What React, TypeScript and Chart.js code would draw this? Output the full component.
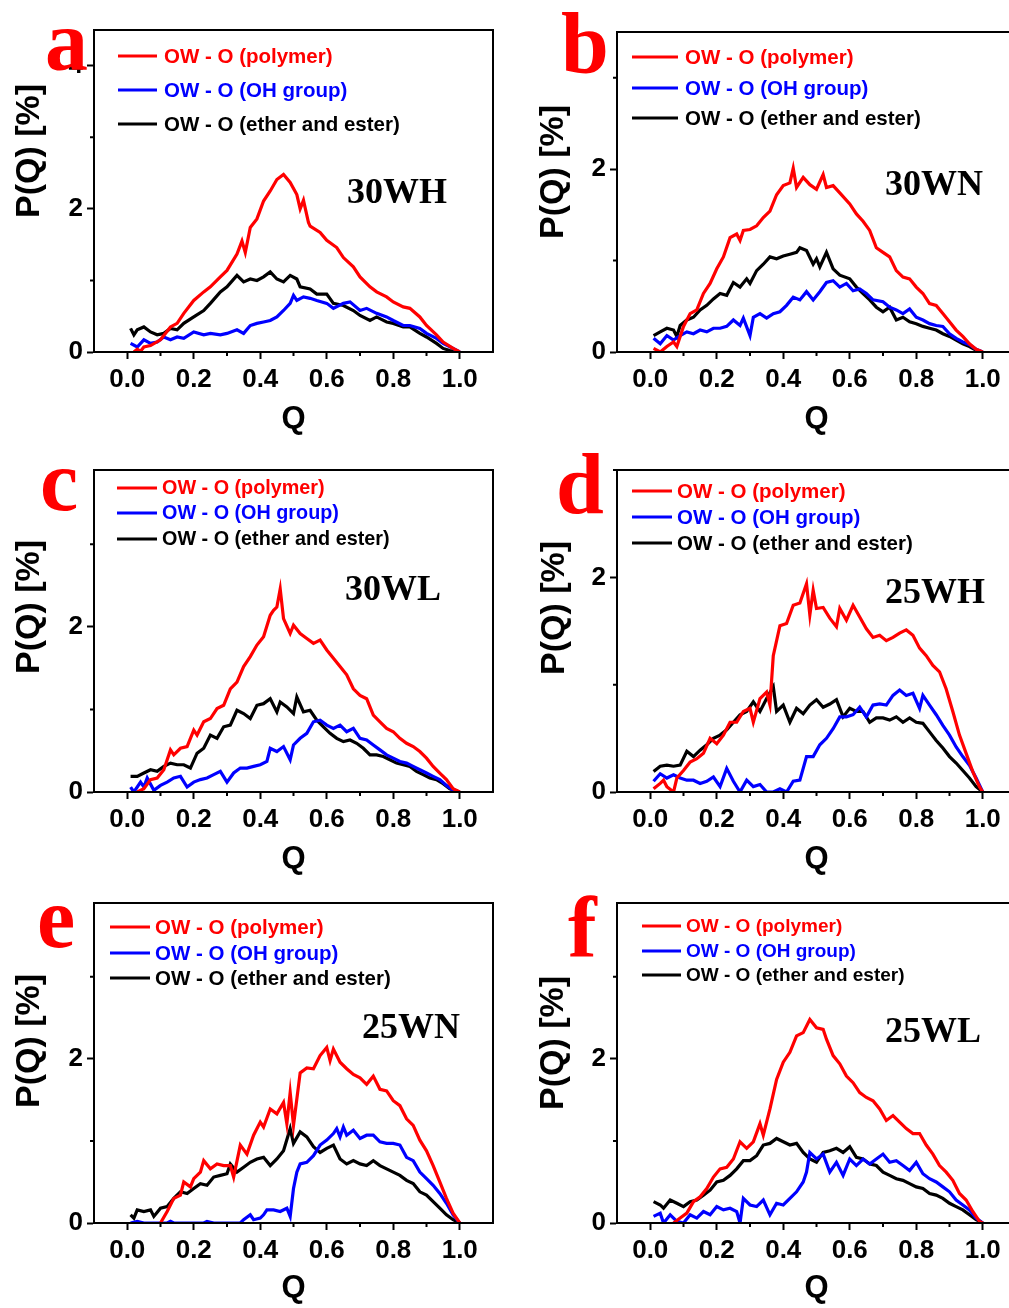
import React, { useEffect, useRef } from "react";
import { Chart, registerables } from "chart.js";
Chart.register(...registerables);

type Pt = [number, number];

// ---------- labels / ticks ----------
const SERIES_LABELS = ["OW - O (polymer)", "OW - O (OH group)", "OW - O (ether and ester)"];
const SERIES_COLORS = ["#ff0000", "#0000ff", "#000000"];
const PANEL_LETTERS = ["a", "b", "c", "d", "e", "f"];
const SAMPLE_NAMES = ["30WH", "30WN", "30WL", "25WH", "25WN", "25WL"];
const X_MIN = -0.1;
const X_MAX = 1.1;
const X_MAJOR = [0, 0.2, 0.4, 0.6, 0.8, 1.0];
const X_MINOR = [0.1, 0.3, 0.5, 0.7, 0.9];
const Y_MAX = [4.5, 3.5, 3.9, 3.0, 3.9, 3.9];
const Y_MAJOR = [[0, 2, 4], [0, 2], [0, 2], [0, 2], [0, 2], [0, 2]];
const Y_MINOR = [[1, 3], [1, 3], [1, 3], [1, 3], [1, 3], [1, 3]];
const X_TITLE = "Q";
const Y_TITLE = "P(Q) [%]";

// ---------- data: (Q, P(Q) %) ----------
const A_POLYMER: Pt[] = [[0.02,0],[0.03,0.04],[0.04,0.01],[0.05,0.07],[0.07,0.09],[0.1,0.17],[0.13,0.35],[0.15,0.4],[0.17,0.54],[0.2,0.72],[0.23,0.84],[0.25,0.91],[0.28,1.05],[0.3,1.14],[0.33,1.37],[0.345,1.55],[0.355,1.39],[0.37,1.74],[0.39,1.86],[0.41,2.11],[0.43,2.25],[0.45,2.41],[0.47,2.48],[0.49,2.37],[0.51,2.2],[0.52,2.0],[0.53,2.12],[0.545,1.81],[0.55,1.76],[0.58,1.67],[0.6,1.56],[0.63,1.46],[0.65,1.32],[0.68,1.19],[0.7,1.05],[0.73,0.91],[0.75,0.84],[0.78,0.77],[0.8,0.7],[0.83,0.63],[0.85,0.61],[0.88,0.49],[0.9,0.37],[0.93,0.24],[0.95,0.14],[0.98,0.05],[1.0,0]];
const A_OH: Pt[] = [[0.01,0.12],[0.03,0.07],[0.05,0.17],[0.07,0.12],[0.09,0.14],[0.11,0.21],[0.13,0.17],[0.15,0.21],[0.17,0.19],[0.2,0.28],[0.23,0.24],[0.25,0.26],[0.28,0.24],[0.3,0.26],[0.33,0.31],[0.35,0.26],[0.37,0.37],[0.39,0.4],[0.41,0.42],[0.43,0.44],[0.45,0.49],[0.47,0.58],[0.49,0.68],[0.5,0.79],[0.51,0.72],[0.53,0.77],[0.55,0.75],[0.57,0.72],[0.6,0.68],[0.62,0.61],[0.65,0.68],[0.67,0.7],[0.7,0.58],[0.72,0.61],[0.75,0.54],[0.78,0.49],[0.8,0.44],[0.83,0.37],[0.85,0.37],[0.88,0.33],[0.9,0.26],[0.93,0.19],[0.95,0.12],[0.98,0.05],[1.0,0]];
const A_ETHER: Pt[] = [[0.01,0.33],[0.02,0.24],[0.03,0.31],[0.05,0.35],[0.07,0.28],[0.09,0.24],[0.11,0.26],[0.13,0.33],[0.15,0.31],[0.17,0.4],[0.2,0.49],[0.23,0.58],[0.25,0.68],[0.28,0.84],[0.3,0.91],[0.33,1.07],[0.35,0.98],[0.37,1.02],[0.39,1.0],[0.41,1.05],[0.43,1.12],[0.45,1.02],[0.47,0.98],[0.49,1.07],[0.51,1.02],[0.52,0.91],[0.55,0.88],[0.57,0.81],[0.6,0.81],[0.62,0.68],[0.65,0.65],[0.68,0.58],[0.7,0.51],[0.73,0.44],[0.75,0.49],[0.78,0.42],[0.8,0.4],[0.83,0.35],[0.85,0.35],[0.88,0.26],[0.9,0.21],[0.93,0.12],[0.95,0.05],[0.97,0.02],[1.0,0]];

const B_POLYMER: Pt[] = [[0.01,0.04],[0.03,0],[0.05,0.06],[0.07,0.11],[0.08,0.06],[0.1,0.28],[0.12,0.42],[0.14,0.46],[0.16,0.64],[0.18,0.75],[0.2,0.91],[0.22,1.04],[0.24,1.25],[0.26,1.29],[0.27,1.22],[0.28,1.33],[0.3,1.34],[0.32,1.38],[0.34,1.47],[0.36,1.54],[0.38,1.72],[0.4,1.82],[0.42,1.85],[0.43,2.01],[0.44,1.8],[0.46,1.91],[0.48,1.83],[0.5,1.78],[0.52,1.94],[0.53,1.8],[0.55,1.82],[0.57,1.74],[0.6,1.62],[0.62,1.51],[0.64,1.43],[0.66,1.33],[0.68,1.14],[0.7,1.09],[0.72,1.04],[0.74,0.89],[0.76,0.82],[0.78,0.8],[0.8,0.71],[0.82,0.64],[0.84,0.53],[0.86,0.51],[0.88,0.42],[0.9,0.33],[0.92,0.24],[0.94,0.17],[0.96,0.09],[0.98,0.03],[1.0,0]];
const B_OH: Pt[] = [[0.01,0.15],[0.03,0.09],[0.05,0.18],[0.07,0.13],[0.09,0.18],[0.11,0.22],[0.13,0.2],[0.15,0.24],[0.17,0.22],[0.19,0.26],[0.21,0.26],[0.23,0.28],[0.25,0.35],[0.27,0.29],[0.28,0.37],[0.3,0.18],[0.31,0.38],[0.33,0.42],[0.35,0.37],[0.37,0.42],[0.39,0.44],[0.41,0.51],[0.43,0.6],[0.45,0.57],[0.47,0.66],[0.49,0.57],[0.51,0.66],[0.53,0.76],[0.55,0.78],[0.57,0.71],[0.59,0.75],[0.61,0.67],[0.63,0.69],[0.65,0.64],[0.67,0.57],[0.7,0.55],[0.72,0.49],[0.74,0.46],[0.76,0.42],[0.78,0.47],[0.8,0.38],[0.82,0.35],[0.84,0.31],[0.86,0.29],[0.88,0.28],[0.9,0.2],[0.92,0.15],[0.94,0.11],[0.96,0.08],[0.98,0.03],[1.0,0]];
const B_ETHER: Pt[] = [[0.01,0.18],[0.03,0.22],[0.05,0.26],[0.07,0.24],[0.08,0.17],[0.09,0.29],[0.11,0.35],[0.13,0.38],[0.15,0.46],[0.17,0.51],[0.19,0.58],[0.21,0.64],[0.23,0.62],[0.25,0.76],[0.27,0.71],[0.29,0.8],[0.3,0.75],[0.32,0.89],[0.34,0.96],[0.36,1.04],[0.38,1.02],[0.4,1.05],[0.42,1.07],[0.44,1.09],[0.45,1.14],[0.47,1.11],[0.49,0.96],[0.5,1.02],[0.51,0.93],[0.53,1.09],[0.55,0.91],[0.57,0.84],[0.6,0.8],[0.62,0.71],[0.64,0.64],[0.66,0.57],[0.68,0.49],[0.7,0.44],[0.72,0.49],[0.74,0.35],[0.76,0.38],[0.78,0.33],[0.8,0.31],[0.82,0.28],[0.84,0.26],[0.86,0.24],[0.88,0.2],[0.9,0.17],[0.92,0.13],[0.94,0.09],[0.96,0.06],[0.98,0.02],[1.0,0]];

const C_POLYMER: Pt[] = [[0.03,0],[0.05,0.04],[0.07,0.15],[0.09,0.17],[0.11,0.27],[0.13,0.51],[0.14,0.45],[0.16,0.53],[0.18,0.55],[0.2,0.75],[0.21,0.69],[0.23,0.85],[0.25,0.89],[0.27,1.01],[0.29,1.05],[0.31,1.25],[0.33,1.33],[0.35,1.52],[0.37,1.64],[0.39,1.78],[0.41,1.88],[0.43,2.14],[0.44,2.2],[0.45,2.24],[0.46,2.46],[0.47,2.1],[0.49,1.92],[0.5,2.02],[0.52,1.92],[0.54,1.86],[0.56,1.8],[0.58,1.84],[0.6,1.72],[0.62,1.62],[0.64,1.52],[0.66,1.42],[0.68,1.25],[0.7,1.17],[0.72,1.13],[0.74,0.93],[0.76,0.85],[0.78,0.77],[0.8,0.73],[0.82,0.65],[0.84,0.59],[0.86,0.55],[0.88,0.49],[0.9,0.41],[0.92,0.31],[0.94,0.23],[0.96,0.15],[0.98,0.04],[1.0,0]];
const C_OH: Pt[] = [[0.01,0.06],[0.02,0],[0.04,0.12],[0.05,0.06],[0.06,0.17],[0.08,0.02],[0.1,0.08],[0.12,0.12],[0.14,0.17],[0.16,0.19],[0.18,0.06],[0.2,0.12],[0.22,0.15],[0.24,0.17],[0.26,0.21],[0.28,0.25],[0.3,0.12],[0.32,0.23],[0.34,0.29],[0.36,0.29],[0.38,0.31],[0.4,0.33],[0.42,0.37],[0.43,0.53],[0.45,0.49],[0.47,0.55],[0.49,0.39],[0.5,0.57],[0.52,0.65],[0.54,0.71],[0.56,0.85],[0.58,0.87],[0.6,0.81],[0.62,0.77],[0.64,0.81],[0.66,0.73],[0.68,0.77],[0.7,0.65],[0.72,0.63],[0.74,0.57],[0.76,0.51],[0.78,0.45],[0.8,0.41],[0.82,0.37],[0.84,0.35],[0.86,0.31],[0.88,0.27],[0.9,0.23],[0.92,0.19],[0.94,0.15],[0.96,0.08],[0.98,0.02],[1.0,0]];
const C_ETHER: Pt[] = [[0.01,0.19],[0.03,0.19],[0.05,0.23],[0.07,0.27],[0.09,0.25],[0.11,0.31],[0.13,0.35],[0.15,0.33],[0.17,0.33],[0.19,0.29],[0.21,0.47],[0.23,0.53],[0.25,0.69],[0.27,0.65],[0.29,0.79],[0.31,0.81],[0.33,0.99],[0.35,0.95],[0.37,0.89],[0.39,1.05],[0.41,1.07],[0.43,1.13],[0.45,0.97],[0.46,1.09],[0.48,1.03],[0.5,0.95],[0.51,1.15],[0.53,0.97],[0.55,0.99],[0.57,0.87],[0.59,0.79],[0.61,0.71],[0.63,0.65],[0.65,0.61],[0.67,0.63],[0.69,0.59],[0.71,0.53],[0.73,0.45],[0.75,0.45],[0.77,0.43],[0.79,0.39],[0.81,0.35],[0.83,0.33],[0.85,0.31],[0.87,0.25],[0.89,0.21],[0.91,0.17],[0.93,0.15],[0.95,0.1],[0.97,0.04],[1.0,0]];

const D_POLYMER: Pt[] = [[0.01,0.03],[0.03,0.08],[0.04,0.11],[0.05,0.05],[0.07,0],[0.08,0.13],[0.1,0.2],[0.12,0.28],[0.14,0.31],[0.16,0.36],[0.18,0.5],[0.2,0.45],[0.22,0.53],[0.24,0.65],[0.26,0.65],[0.28,0.75],[0.3,0.78],[0.31,0.65],[0.33,0.87],[0.35,0.93],[0.36,0.81],[0.37,1.27],[0.39,1.55],[0.41,1.57],[0.43,1.74],[0.45,1.76],[0.47,1.94],[0.48,1.65],[0.49,1.88],[0.5,1.71],[0.52,1.72],[0.54,1.62],[0.56,1.54],[0.57,1.71],[0.59,1.6],[0.61,1.74],[0.63,1.63],[0.65,1.52],[0.67,1.44],[0.69,1.46],[0.71,1.41],[0.73,1.44],[0.75,1.48],[0.77,1.51],[0.79,1.46],[0.81,1.34],[0.83,1.27],[0.85,1.18],[0.87,1.12],[0.89,0.96],[0.91,0.75],[0.93,0.53],[0.95,0.36],[0.97,0.19],[0.99,0.05],[1.0,0]];
const D_OH: Pt[] = [[0.01,0.1],[0.03,0.17],[0.05,0.13],[0.07,0.16],[0.09,0.13],[0.11,0.11],[0.13,0.11],[0.15,0.08],[0.17,0.1],[0.19,0.14],[0.21,0.05],[0.23,0.22],[0.25,0.1],[0.27,0],[0.29,0.11],[0.31,0.05],[0.33,0.07],[0.35,0],[0.37,0],[0.39,0.03],[0.41,0],[0.43,0.1],[0.45,0.11],[0.47,0.33],[0.49,0.33],[0.51,0.44],[0.53,0.5],[0.55,0.59],[0.57,0.7],[0.59,0.7],[0.61,0.72],[0.63,0.79],[0.65,0.7],[0.67,0.81],[0.69,0.82],[0.71,0.81],[0.73,0.9],[0.75,0.95],[0.77,0.9],[0.79,0.92],[0.81,0.78],[0.82,0.9],[0.84,0.81],[0.86,0.72],[0.88,0.62],[0.9,0.53],[0.92,0.42],[0.94,0.33],[0.96,0.25],[0.98,0.13],[1.0,0]];
const D_ETHER: Pt[] = [[0.01,0.19],[0.03,0.24],[0.05,0.25],[0.07,0.24],[0.09,0.25],[0.11,0.38],[0.13,0.33],[0.15,0.39],[0.17,0.44],[0.19,0.5],[0.21,0.53],[0.23,0.58],[0.25,0.65],[0.27,0.72],[0.29,0.75],[0.31,0.84],[0.33,0.75],[0.35,0.87],[0.37,0.98],[0.38,0.75],[0.4,0.81],[0.42,0.65],[0.44,0.78],[0.46,0.73],[0.48,0.81],[0.5,0.86],[0.52,0.79],[0.54,0.82],[0.56,0.86],[0.58,0.7],[0.6,0.78],[0.62,0.75],[0.64,0.75],[0.66,0.65],[0.68,0.69],[0.7,0.69],[0.72,0.67],[0.74,0.7],[0.76,0.65],[0.78,0.69],[0.8,0.65],[0.82,0.64],[0.84,0.56],[0.86,0.48],[0.88,0.41],[0.9,0.33],[0.92,0.27],[0.94,0.2],[0.96,0.13],[0.98,0.05],[1.0,0]];

const E_POLYMER: Pt[] = [[0.1,0],[0.12,0.14],[0.14,0.3],[0.16,0.34],[0.17,0.5],[0.19,0.44],[0.2,0.54],[0.22,0.62],[0.23,0.76],[0.25,0.66],[0.27,0.72],[0.29,0.7],[0.31,0.7],[0.32,0.56],[0.34,0.95],[0.36,0.84],[0.38,1.07],[0.4,1.23],[0.41,1.17],[0.43,1.39],[0.45,1.33],[0.47,1.47],[0.48,1.21],[0.49,1.59],[0.5,1.19],[0.52,1.83],[0.54,1.89],[0.56,1.88],[0.58,2.04],[0.6,2.14],[0.61,1.98],[0.62,2.12],[0.64,1.96],[0.66,1.88],[0.68,1.81],[0.7,1.77],[0.72,1.69],[0.74,1.79],[0.76,1.63],[0.78,1.61],[0.8,1.49],[0.82,1.43],[0.84,1.27],[0.86,1.19],[0.88,1.01],[0.9,0.88],[0.92,0.7],[0.94,0.5],[0.96,0.3],[0.98,0.12],[1.0,0]];
const E_OH: Pt[] = [[0.01,0],[0.03,0.02],[0.05,0],[0.12,0],[0.13,0.02],[0.14,0],[0.23,0],[0.24,0.02],[0.26,0],[0.34,0],[0.35,0.04],[0.37,0.1],[0.38,0.04],[0.4,0.06],[0.41,0.1],[0.42,0.16],[0.44,0.16],[0.46,0.14],[0.48,0.18],[0.49,0.08],[0.5,0.42],[0.51,0.62],[0.52,0.72],[0.54,0.74],[0.56,0.82],[0.58,0.95],[0.6,1.01],[0.62,1.09],[0.63,1.15],[0.64,1.05],[0.65,1.17],[0.66,1.07],[0.68,1.13],[0.7,1.03],[0.72,1.07],[0.74,1.07],[0.76,0.99],[0.78,0.97],[0.8,0.97],[0.82,0.95],[0.84,0.8],[0.86,0.76],[0.88,0.62],[0.9,0.54],[0.92,0.46],[0.94,0.36],[0.96,0.24],[0.98,0.1],[1.0,0]];
const E_ETHER: Pt[] = [[0.01,0.1],[0.02,0.06],[0.03,0.16],[0.05,0.14],[0.07,0.16],[0.08,0.08],[0.1,0.18],[0.12,0.2],[0.14,0.3],[0.16,0.38],[0.18,0.36],[0.2,0.42],[0.22,0.48],[0.24,0.46],[0.26,0.56],[0.28,0.58],[0.3,0.6],[0.31,0.72],[0.33,0.62],[0.35,0.68],[0.37,0.74],[0.39,0.78],[0.41,0.8],[0.43,0.7],[0.45,0.78],[0.47,0.88],[0.49,1.15],[0.5,0.97],[0.52,1.11],[0.54,1.05],[0.56,0.93],[0.58,0.86],[0.6,0.91],[0.62,0.95],[0.64,0.78],[0.66,0.72],[0.68,0.76],[0.7,0.72],[0.72,0.7],[0.74,0.76],[0.76,0.7],[0.78,0.66],[0.8,0.62],[0.82,0.58],[0.84,0.52],[0.86,0.48],[0.88,0.38],[0.9,0.34],[0.92,0.26],[0.94,0.18],[0.96,0.1],[0.98,0.04],[1.0,0]];

const F_POLYMER: Pt[] = [[0.07,0],[0.09,0.06],[0.11,0.12],[0.13,0.26],[0.15,0.32],[0.17,0.42],[0.19,0.56],[0.21,0.66],[0.23,0.68],[0.25,0.78],[0.27,0.99],[0.29,0.91],[0.31,0.99],[0.33,1.21],[0.34,1.07],[0.36,1.39],[0.38,1.75],[0.4,1.96],[0.42,2.08],[0.44,2.28],[0.46,2.32],[0.48,2.48],[0.5,2.38],[0.52,2.36],[0.53,2.24],[0.55,2.04],[0.57,1.94],[0.59,1.79],[0.61,1.71],[0.63,1.59],[0.65,1.53],[0.67,1.49],[0.69,1.39],[0.71,1.25],[0.73,1.31],[0.75,1.23],[0.77,1.15],[0.79,1.09],[0.81,1.09],[0.83,0.95],[0.85,0.84],[0.87,0.7],[0.89,0.62],[0.91,0.52],[0.93,0.36],[0.95,0.28],[0.97,0.14],[0.99,0.02],[1.0,0]];
const F_OH: Pt[] = [[0.01,0.08],[0.03,0.12],[0.04,0],[0.06,0.1],[0.08,0.02],[0.1,0],[0.12,0.1],[0.14,0.06],[0.16,0.14],[0.18,0.1],[0.2,0.2],[0.22,0.16],[0.24,0.18],[0.26,0.14],[0.27,0],[0.28,0.3],[0.3,0.22],[0.32,0.2],[0.34,0.28],[0.36,0.1],[0.38,0.24],[0.4,0.22],[0.42,0.3],[0.44,0.38],[0.46,0.5],[0.47,0.62],[0.48,0.86],[0.5,0.78],[0.52,0.84],[0.54,0.62],[0.56,0.74],[0.58,0.58],[0.6,0.78],[0.62,0.7],[0.64,0.78],[0.66,0.72],[0.68,0.78],[0.7,0.84],[0.72,0.74],[0.74,0.76],[0.76,0.7],[0.78,0.64],[0.8,0.74],[0.82,0.6],[0.84,0.54],[0.86,0.5],[0.88,0.44],[0.9,0.38],[0.92,0.28],[0.94,0.22],[0.96,0.16],[0.98,0.06],[1.0,0]];
const F_ETHER: Pt[] = [[0.01,0.26],[0.03,0.22],[0.04,0.18],[0.06,0.28],[0.08,0.24],[0.1,0.2],[0.12,0.26],[0.14,0.28],[0.16,0.34],[0.18,0.4],[0.2,0.5],[0.22,0.52],[0.24,0.58],[0.26,0.66],[0.28,0.76],[0.3,0.76],[0.32,0.82],[0.34,0.95],[0.36,0.97],[0.38,1.03],[0.4,0.99],[0.42,0.95],[0.44,0.97],[0.46,0.86],[0.48,0.78],[0.5,0.74],[0.52,0.86],[0.54,0.88],[0.56,0.91],[0.58,0.86],[0.6,0.93],[0.62,0.8],[0.64,0.78],[0.66,0.72],[0.68,0.7],[0.7,0.62],[0.72,0.58],[0.74,0.54],[0.76,0.52],[0.78,0.48],[0.8,0.44],[0.82,0.42],[0.84,0.36],[0.86,0.34],[0.88,0.3],[0.9,0.24],[0.92,0.2],[0.94,0.16],[0.96,0.1],[0.98,0.04],[1.0,0]];

const PANEL_SERIES: Pt[][][] = [
  [A_POLYMER, A_OH, A_ETHER],
  [B_POLYMER, B_OH, B_ETHER],
  [C_POLYMER, C_OH, C_ETHER],
  [D_POLYMER, D_OH, D_ETHER],
  [E_POLYMER, E_OH, E_ETHER],
  [F_POLYMER, F_OH, F_ETHER],
];

// ---------- layout (positions, sizes) ----------
interface Layout {
  left: number; top: number; width: number; height: number;
  box: [number, number, number, number];
  legX: number; legLen: number; legTextX: number; legRows: number[]; legFont: number;
  nameX: number; nameY: number;
  letterX: number; letterY: number;
  yTitleX: number; yTitleY: number;
  qPad: number;
}
const LAYOUTS: Layout[] = [
  { left: 0, top: 0, width: 505, height: 440, box: [94, 30, 493, 352], legX: 118, legLen: 39, legTextX: 164, legRows: [56, 90, 124], legFont: 20.5, nameX: 347, nameY: 203, letterX: 45, letterY: 70, yTitleX: 30, yTitleY: 151, qPad: 2 },
  { left: 505, top: 0, width: 525, height: 440, box: [112, 32, 511, 352], legX: 127, legLen: 46, legTextX: 180, legRows: [57, 88, 118], legFont: 20.5, nameX: 380, nameY: 195, letterX: 56, letterY: 72, yTitleX: 49, yTitleY: 172, qPad: 2 },
  { left: 0, top: 440, width: 505, height: 440, box: [94, 30, 493, 352], legX: 117, legLen: 40, legTextX: 162, legRows: [48, 73, 99], legFont: 19.8, nameX: 345, nameY: 160, letterX: 40, letterY: 70, yTitleX: 30, yTitleY: 167, qPad: 2 },
  { left: 505, top: 440, width: 525, height: 440, box: [112, 30, 511, 352], legX: 127, legLen: 40, legTextX: 172, legRows: [51, 77, 103], legFont: 20.5, nameX: 380, nameY: 163, letterX: 51, letterY: 73, yTitleX: 50, yTitleY: 168, qPad: 2 },
  { left: 0, top: 880, width: 505, height: 428, box: [94, 23, 493, 343], legX: 110, legLen: 40, legTextX: 155, legRows: [47, 73, 98], legFont: 20.5, nameX: 362, nameY: 158, letterX: 37, letterY: 67, yTitleX: 30, yTitleY: 161, qPad: 1 },
  { left: 505, top: 880, width: 525, height: 428, box: [112, 23, 511, 343], legX: 137, legLen: 39, legTextX: 181, legRows: [46, 71, 95], legFont: 19, nameX: 380, nameY: 162, letterX: 63, letterY: 77, yTitleX: 49, yTitleY: 163, qPad: 1 },
];

const SANS = "'Liberation Sans', Arial, sans-serif";
const SERIF = "'Liberation Serif', 'Times New Roman', serif";

function makeDecor(i: number) {
  const L = LAYOUTS[i];
  return {
    id: "decor" + i,
    afterDraw(chart: any) {
      const ctx = chart.ctx;
      const a = chart.chartArea;
      const xs = chart.scales.x;
      const ys = chart.scales.y;
      ctx.save();
      // frame
      ctx.strokeStyle = "#000";
      ctx.lineWidth = 2;
      ctx.strokeRect(a.left, a.top, a.right - a.left, a.bottom - a.top);
      // minor ticks
      ctx.beginPath();
      X_MINOR.forEach((v) => {
        const px = xs.getPixelForValue(v);
        ctx.moveTo(px, a.bottom);
        ctx.lineTo(px, a.bottom + 4);
      });
      Y_MINOR[i].forEach((v) => {
        const py = ys.getPixelForValue(v);
        ctx.moveTo(a.left - 4, py);
        ctx.lineTo(a.left, py);
      });
      ctx.stroke();
      // legend
      SERIES_LABELS.forEach((lab, k) => {
        const y = L.legRows[k];
        ctx.strokeStyle = SERIES_COLORS[k];
        ctx.lineWidth = 3;
        ctx.beginPath();
        ctx.moveTo(L.legX, y);
        ctx.lineTo(L.legX + L.legLen, y);
        ctx.stroke();
        ctx.fillStyle = SERIES_COLORS[k];
        ctx.font = `bold ${L.legFont}px ${SANS}`;
        ctx.textAlign = "left";
        ctx.textBaseline = "middle";
        ctx.fillText(lab, L.legTextX, y + 1);
      });
      // sample name
      ctx.fillStyle = "#000";
      ctx.font = `bold 36px ${SERIF}`;
      ctx.textAlign = "left";
      ctx.textBaseline = "alphabetic";
      ctx.fillText(SAMPLE_NAMES[i], L.nameX, L.nameY);
      // y title
      ctx.save();
      ctx.translate(L.yTitleX, L.yTitleY);
      ctx.rotate(-Math.PI / 2);
      ctx.font = `bold 34px ${SANS}`;
      ctx.textAlign = "center";
      ctx.textBaseline = "middle";
      ctx.fillStyle = "#000";
      ctx.fillText(Y_TITLE, 0, 0);
      ctx.restore();
      // panel letter
      ctx.fillStyle = "#ff0000";
      ctx.font = `bold 86px ${SERIF}`;
      ctx.textAlign = "left";
      ctx.textBaseline = "alphabetic";
      ctx.fillText(PANEL_LETTERS[i], L.letterX, L.letterY);
      ctx.restore();
    },
  };
}

function Panel({ index }: { index: number }) {
  const ref = useRef<HTMLCanvasElement | null>(null);
  const L = LAYOUTS[index];
  useEffect(() => {
    if (!ref.current) return;
    const series = PANEL_SERIES[index];
    const tickFont = { family: SANS, size: 26, weight: "bold" as const };
    const chart = new Chart(ref.current, {
      type: "line",
      data: {
        datasets: series.map((pts, k) => ({
          label: SERIES_LABELS[k],
          data: pts.map(([x, y]) => ({ x, y })),
          borderColor: SERIES_COLORS[k],
          backgroundColor: SERIES_COLORS[k],
          borderWidth: 3.2,
          pointRadius: 0,
          tension: 0,
          fill: false,
        })),
      },
      options: {
        animation: false,
        responsive: false,
        events: [],
        layout: { padding: { left: 0, top: L.box[1], right: L.width - L.box[2], bottom: 0 } },
        plugins: { legend: { display: false }, tooltip: { enabled: false }, title: { display: false } },
        scales: {
          x: {
            type: "linear",
            min: X_MIN,
            max: X_MAX,
            afterBuildTicks: (s: any) => { s.ticks = X_MAJOR.map((v) => ({ value: v })); },
            afterFit: (s: any) => { s.height = L.height - L.box[3]; },
            ticks: { callback: (v: any) => Number(v).toFixed(1), font: tickFont, color: "#000", padding: 5, maxRotation: 0, autoSkip: false },
            grid: { drawOnChartArea: false, drawTicks: true, tickLength: 7, tickWidth: 2, tickColor: "#000" },
            border: { display: true, color: "#000", width: 2 },
            title: { display: true, text: X_TITLE, color: "#000", font: { family: SANS, size: 31, weight: "bold" }, padding: { top: 0, bottom: L.qPad } },
          },
          y: {
            type: "linear",
            min: 0,
            max: Y_MAX[index],
            afterBuildTicks: (s: any) => { s.ticks = Y_MAJOR[index].map((v) => ({ value: v })); },
            afterFit: (s: any) => { s.width = L.box[0]; },
            ticks: { callback: (v: any) => String(v), font: tickFont, color: "#000", padding: 4, autoSkip: false },
            grid: { drawOnChartArea: false, drawTicks: true, tickLength: 7, tickWidth: 2, tickColor: "#000" },
            border: { display: true, color: "#000", width: 2 },
          },
        },
      },
      plugins: [makeDecor(index)],
    } as any);
    return () => chart.destroy();
  }, [index]);
  return (
    <canvas
      ref={ref}
      width={L.width}
      height={L.height}
      style={{ position: "absolute", left: L.left, top: L.top, width: L.width, height: L.height }}
    />
  );
}

export default function App() {
  return (
    <div style={{ position: "absolute", left: 0, top: 0, width: 1009, height: 1308, overflow: "hidden", background: "#fff" }}>
      {LAYOUTS.map((_, i) => (
        <Panel key={i} index={i} />
      ))}
    </div>
  );
}
